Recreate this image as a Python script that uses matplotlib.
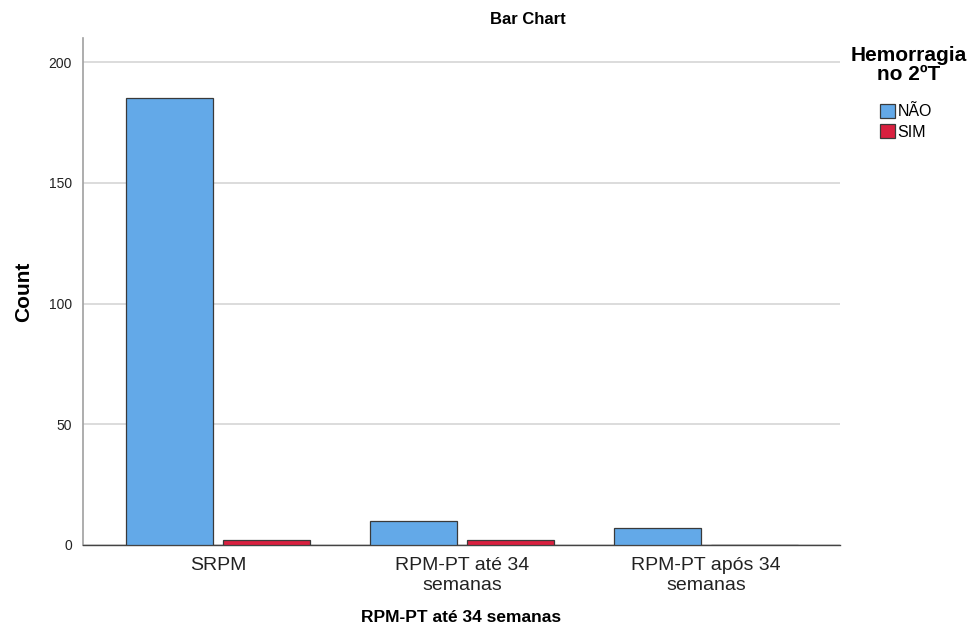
import matplotlib.pyplot as plt
import numpy as np

plt.rcParams["font.family"] = ["Liberation Sans", "DejaVu Sans"]

categories = ["SRPM", "RPM-PT até 34\nsemanas", "RPM-PT após 34\nsemanas"]
nao = [185, 10, 7]
sim = [2, 2, 0]
series_names = ["NÃO", "SIM"]
colors = ["#63a9e8", "#d9203f"]

W, H = 972, 643
fig = plt.figure(figsize=(W / 100, H / 100), dpi=100)
ax = fig.add_axes([83 / W, 1 - 545 / H, 757 / W, 507 / H])

x = np.arange(len(categories))
w = 0.357
ax.bar(x - 0.198, nao, w, color=colors[0], edgecolor="#3a3a3a", linewidth=0.9,
       label=series_names[0], zorder=3)
ax.bar(x + 0.198, sim, w, color=colors[1], edgecolor="#3a3a3a", linewidth=0.9,
       label=series_names[1], zorder=3)

ax.set_xlim(-0.553, 2.549)
ax.set_ylim(0, 210)
ax.set_yticks([0, 50, 100, 150, 200])
ax.set_xticks(x)
ax.set_xticklabels(categories, fontsize=14, linespacing=1.2)
ax.tick_params(axis="y", labelsize=10, length=0, pad=8, colors="#222222")
ax.tick_params(axis="x", length=0, pad=9, colors="#222222")
ax.yaxis.grid(True, color="#d6d6d6", linewidth=1.2, zorder=0)

for s in ["top", "right"]:
    ax.spines[s].set_visible(False)
ax.spines["left"].set_color("#a0a0a0")
ax.spines["left"].set_linewidth(1.2)
ax.spines["bottom"].set_color("#444444")
ax.spines["bottom"].set_linewidth(1.0)

# titles
fig.text(528 / W, 1 - 20 / H, "Bar Chart", fontsize=12, fontweight="bold",
         ha="center", va="center")
fig.text(461.5 / W, 1 - 618 / H, "RPM-PT até 34 semanas", fontsize=12.5,
         fontweight="bold", ha="center", va="center")
fig.text(24 / W, 1 - 292 / H, "Count", fontsize=15, fontweight="bold",
         rotation=90, ha="center", va="center")

# legend
fig.text(909 / W, 1 - 65 / H, "Hemorragia\nno 2ºT", fontsize=15, fontweight="bold",
         ha="center", va="center", multialignment="center", linespacing=0.95)
leg = fig.legend(*ax.get_legend_handles_labels(), loc="upper left",
                 bbox_to_anchor=(880 / W, 1 - 104 / H), frameon=False, fontsize=11.5,
                 handlelength=0.95, handleheight=0.95, handletextpad=0.15,
                 labelspacing=0.3, borderaxespad=0, borderpad=0)

fig.savefig("out.png", dpi=100)
